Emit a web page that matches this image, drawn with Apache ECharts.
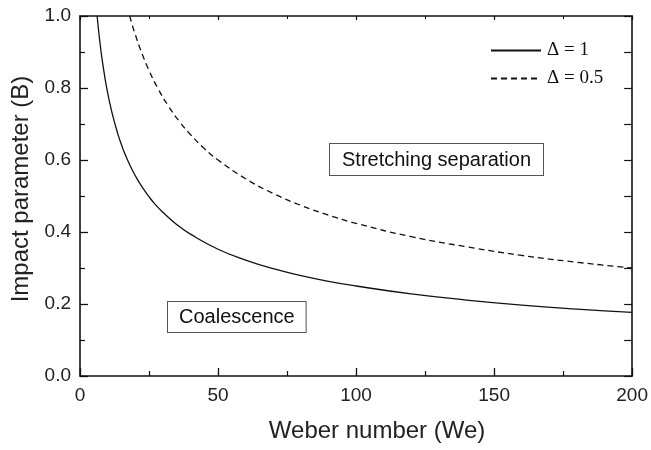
<!DOCTYPE html>
<html>
<head>
<meta charset="utf-8">
<script src="https://cdn.jsdelivr.net/npm/echarts@6/dist/echarts.min.js"></script>
<style>
  html, body { margin: 0; padding: 0; background: #fff; }
  #chart { width: 651px; height: 450px; }
</style>
</head>
<body>
<div id="chart"></div>
<script>
// Data
const weSolid = [6.2, 6.5, 7, 7.5, 8, 9, 10, 11, 12, 13, 14, 15, 16, 18, 20, 22, 25, 27, 30, 35, 40, 50, 60, 70, 80, 90, 100, 120, 140, 160, 180, 200];
const bSolid  = [1.0, 0.977, 0.941, 0.909, 0.880, 0.830, 0.787, 0.751, 0.719, 0.691, 0.665, 0.643, 0.622, 0.587, 0.557, 0.531, 0.498, 0.479, 0.455, 0.421, 0.394, 0.352, 0.322, 0.298, 0.279, 0.263, 0.25, 0.228, 0.211, 0.197, 0.186, 0.177];
const weDashed = [18, 19, 20, 22, 25, 28, 32, 36, 40, 45, 50, 60, 70, 80, 90, 100, 120, 140, 160, 180, 200];
const bDashed  = [1.0, 0.973, 0.949, 0.905, 0.849, 0.802, 0.750, 0.707, 0.671, 0.632, 0.600, 0.548, 0.507, 0.474, 0.447, 0.424, 0.387, 0.359, 0.335, 0.316, 0.30];
const seriesNames = ['Δ = 1', 'Δ = 0.5'];
const xTicks = [0, 50, 100, 150, 200];
const yTicks = [0.0, 0.2, 0.4, 0.6, 0.8, 1.0];
const xTitle = 'Weber number (We)';
const yTitle = 'Impact parameter (B)';
const regionLabels = ['Stretching separation', 'Coalescence'];

const zip = (xs, ys) => xs.map((x, i) => [x, ys[i]]);

const chart = echarts.init(document.getElementById('chart'), null, { renderer: 'canvas' });

const axisLine = { show: true, onZero: false, lineStyle: { color: '#111', width: 1.6 } };
const sans = 'Liberation Sans, Arial, sans-serif';

chart.setOption({
  animation: false,
  backgroundColor: '#fff',
  grid: { left: 80, right: 17, top: 16, bottom: 74, containLabel: false },
  legend: {
    orient: 'vertical',
    left: 490,
    top: 41,
    padding: 0,
    itemGap: 9,
    itemWidth: 50,
    itemHeight: 14,
    data: seriesNames,
    itemStyle: { color: 'rgba(0,0,0,0)', borderWidth: 0 },
    textStyle: { fontFamily: 'Liberation Serif, Times New Roman, serif', fontSize: 19, color: '#111', padding: [0, 0, 0, 1] }
  },
  xAxis: [
    {
      type: 'value', position: 'bottom',
      min: xTicks[0], max: xTicks[xTicks.length - 1], interval: 50,
      axisLine,
      axisTick: { inside: true, length: 8, lineStyle: { color: '#111', width: 1.3 } },
      minorTick: { show: true, splitNumber: 2, length: 5, lineStyle: { color: '#111', width: 1.2 } },
      splitLine: { show: false },
      axisLabel: { fontFamily: sans, fontSize: 19, color: '#222', margin: 10 },
      name: xTitle, nameLocation: 'middle', nameGap: 43,
      nameTextStyle: { fontFamily: sans, fontSize: 24, color: '#222', padding: [0, 0, 0, 42] }
    },
    {
      type: 'value', position: 'top',
      min: 0, max: 200, interval: 50,
      axisLine,
      axisTick: { inside: true, length: 4, lineStyle: { color: '#111', width: 1.2 } },
      minorTick: { show: true, splitNumber: 2, length: 3, lineStyle: { color: '#111' } },
      splitLine: { show: false },
      axisLabel: { show: false }
    }
  ],
  yAxis: [
    {
      type: 'value', position: 'left',
      min: yTicks[0], max: yTicks[yTicks.length - 1], interval: 0.2,
      axisLine,
      axisTick: { inside: true, length: 8, lineStyle: { color: '#111', width: 1.3 } },
      minorTick: { show: true, splitNumber: 2, length: 5, lineStyle: { color: '#111', width: 1.2 } },
      splitLine: { show: false },
      axisLabel: { fontFamily: sans, fontSize: 19, color: '#222', margin: 9, formatter: v => v.toFixed(1) },
      name: yTitle, nameLocation: 'middle', nameGap: 47,
      nameTextStyle: { fontFamily: sans, fontSize: 24, color: '#222', padding: [0, 0, 0, 14] }
    },
    {
      type: 'value', position: 'right',
      min: 0, max: 1, interval: 0.2,
      axisLine,
      axisTick: { inside: true, length: 8, lineStyle: { color: '#111', width: 1.2 } },
      minorTick: { show: true, splitNumber: 2, length: 8, lineStyle: { color: '#111', width: 1.2 } },
      splitLine: { show: false },
      axisLabel: { show: false }
    }
  ],
  series: [
    {
      name: seriesNames[0], type: 'line', xAxisIndex: 0, yAxisIndex: 0,
      data: zip(weSolid, bSolid), smooth: 0.5, symbol: 'none', showSymbol: false, clip: true,
      lineStyle: { color: '#111', width: 1.3, type: 'solid' },
      itemStyle: { color: '#111' }
    },
    {
      name: seriesNames[1], type: 'line', xAxisIndex: 0, yAxisIndex: 0,
      data: zip(weDashed, bDashed), smooth: 0.5, symbol: 'none', showSymbol: false, clip: true,
      lineStyle: { color: '#111', width: 1.3, type: [6, 4] },
      itemStyle: { color: '#111' }
    }
  ],
  graphic: [
    {
      type: 'text', left: 329, top: 143, z: 100,
      style: {
        text: regionLabels[0], fontFamily: sans, fontSize: 20, fill: '#111',
        backgroundColor: '#fff', borderColor: '#555', borderWidth: 1,
        padding: [6, 12, 5, 12]
      }
    },
    {
      type: 'text', left: 167, top: 301, z: 100,
      style: {
        text: regionLabels[1], fontFamily: sans, fontSize: 20, fill: '#111',
        backgroundColor: '#fff', borderColor: '#555', borderWidth: 1,
        padding: [5, 11, 5, 11]
      }
    }
  ]
});
</script>
</body>
</html>
